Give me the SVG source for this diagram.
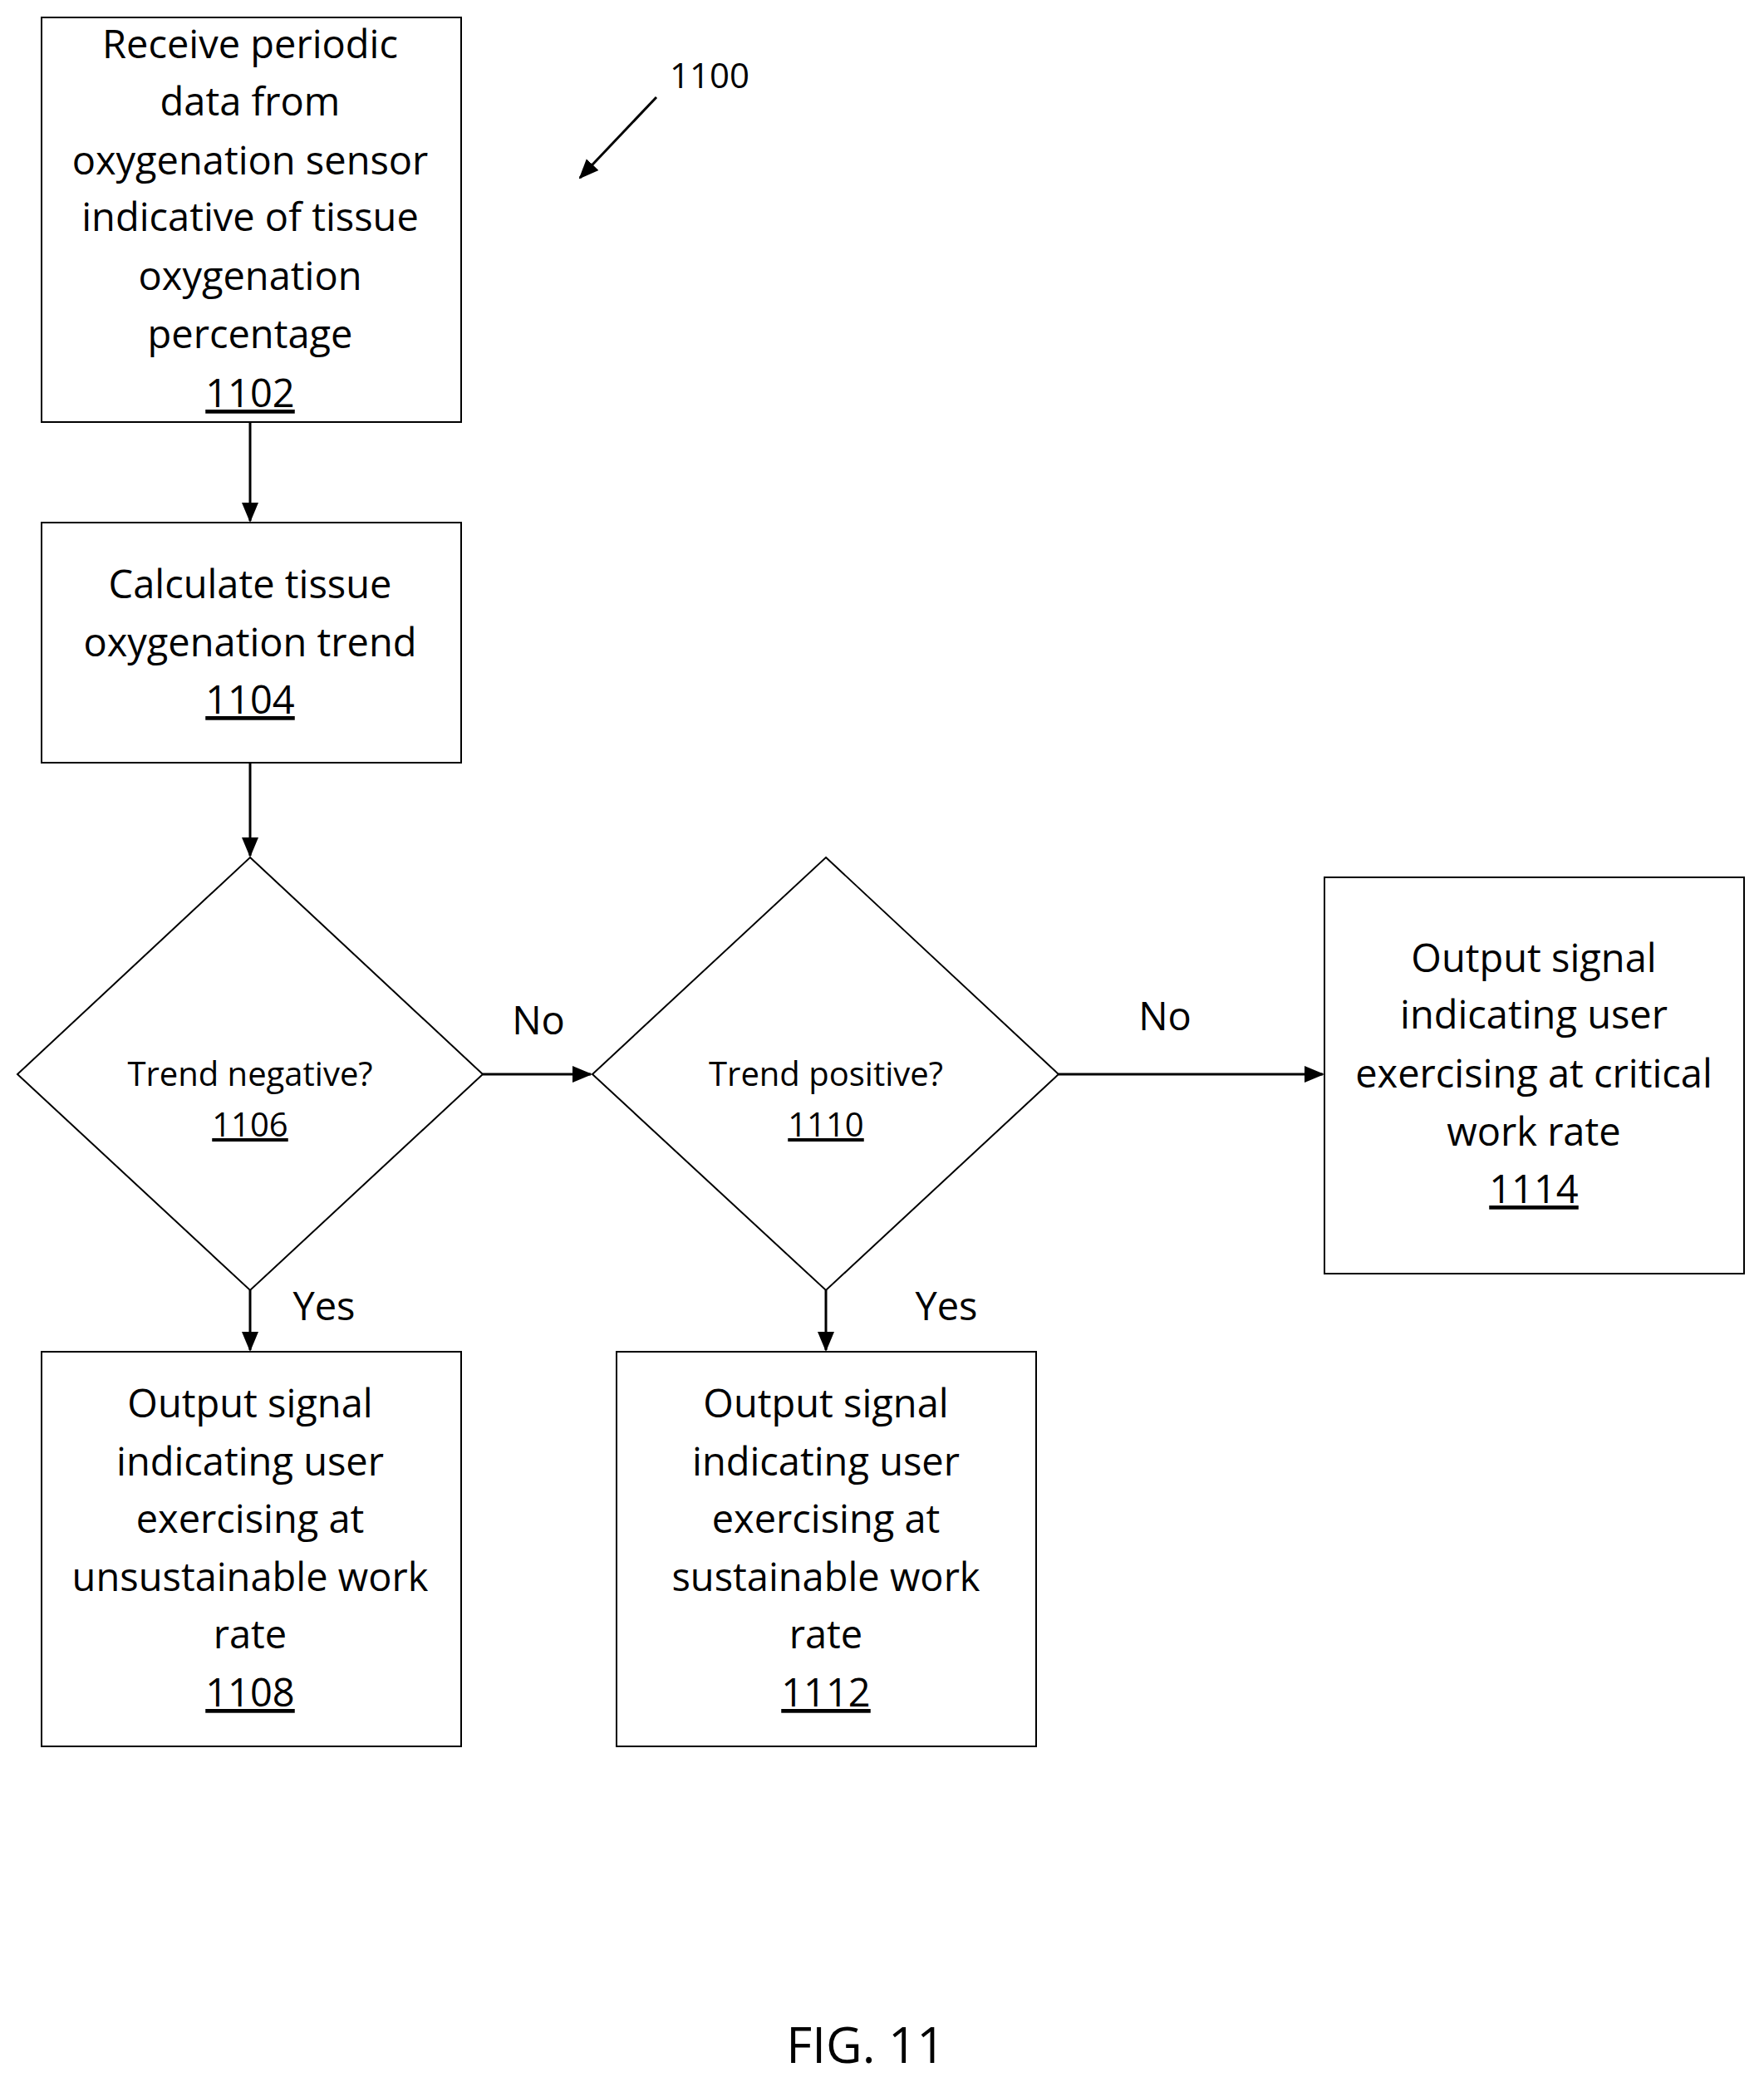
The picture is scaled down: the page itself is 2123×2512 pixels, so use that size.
<svg xmlns="http://www.w3.org/2000/svg" width="2123" height="2512" viewBox="0 0 2123 2512">
<style>
.b{fill:#fff;stroke:#000;stroke-width:2}
.t{font-family:"Open Sans","Liberation Sans",sans-serif;font-size:47px;text-anchor:middle;fill:#000}
.d{font-size:40px}
.u{text-decoration:underline}
.c{stroke:#000;stroke-width:3;fill:none;marker-end:url(#a)}
</style>
<defs><marker id="a" markerWidth="10" markerHeight="10" refX="9" refY="5" orient="auto" markerUnits="userSpaceOnUse" viewBox="0 0 10 10"><path d="M0,0 L10,5 L0,10 z" fill="#000"/></marker>
<marker id="m" markerWidth="24" markerHeight="24" refX="22" refY="12" orient="auto" markerUnits="userSpaceOnUse"><path d="M0,2 L24,12 L0,22 z" fill="#000"/></marker></defs>
<rect width="2123" height="2512" fill="#fff"/>
<g id="connectors">
<line class="c" x1="301" y1="508" x2="301" y2="627" style="marker-end:url(#m)"/>
<line class="c" x1="301" y1="918" x2="301" y2="1030" style="marker-end:url(#m)"/>
<line class="c" x1="301" y1="1553" x2="301" y2="1625" style="marker-end:url(#m)"/>
<line class="c" x1="581" y1="1293" x2="711" y2="1293" style="marker-end:url(#m)"/>
<line class="c" x1="1274" y1="1293" x2="1592" y2="1293" style="marker-end:url(#m)"/>
<line class="c" x1="994" y1="1553" x2="994" y2="1625" style="marker-end:url(#m)"/>
<line class="c" x1="790" y1="117" x2="698" y2="214" style="marker-end:url(#m)"/>
</g>
<g id="n1102"><rect class="b" x="50" y="21" width="505" height="487"/>
<text class="t" x="301" y="70">Receive periodic</text><text class="t" x="301" y="139">data from</text><text class="t" x="301" y="210">oxygenation sensor</text><text class="t" x="301" y="278">indicative of tissue</text><text class="t" x="301" y="349">oxygenation</text><text class="t" x="301" y="419">percentage</text><text class="t u" x="301" y="490">1102</text></g>
<g id="n1104"><rect class="b" x="50" y="629" width="505" height="289"/>
<text class="t" x="301" y="720">Calculate tissue</text><text class="t" x="301" y="790">oxygenation trend</text><text class="t u" x="301" y="859">1104</text></g>
<g id="n1106"><polygon class="b" points="301,1032 581,1293 301,1553 21,1293"/>
<text class="t d" x="301" y="1307">Trend negative?</text><text class="t d u" x="301" y="1368">1106</text></g>
<g id="n1110"><polygon class="b" points="994,1032 1274,1293 994,1553 713,1293"/>
<text class="t d" x="994" y="1307">Trend positive?</text><text class="t d u" x="994" y="1368">1110</text></g>
<g id="n1114"><rect class="b" x="1594" y="1056" width="505" height="477"/>
<text class="t" x="1846" y="1170">Output signal</text><text class="t" x="1846" y="1238">indicating user</text><text class="t" x="1846" y="1309">exercising at critical</text><text class="t" x="1846" y="1379">work rate</text><text class="t u" x="1846" y="1448">1114</text></g>
<g id="n1108"><rect class="b" x="50" y="1627" width="505" height="475"/>
<text class="t" x="301" y="1706">Output signal</text><text class="t" x="301" y="1776">indicating user</text><text class="t" x="301" y="1845">exercising at</text><text class="t" x="301" y="1915">unsustainable work</text><text class="t" x="301" y="1984">rate</text><text class="t u" x="301" y="2054">1108</text></g>
<g id="n1112"><rect class="b" x="742" y="1627" width="505" height="475"/>
<text class="t" x="994" y="1706">Output signal</text><text class="t" x="994" y="1776">indicating user</text><text class="t" x="994" y="1845">exercising at</text><text class="t" x="994" y="1915">sustainable work</text><text class="t" x="994" y="1984">rate</text><text class="t u" x="994" y="2054">1112</text></g>
<g id="labels">
<text class="t" x="648" y="1245">No</text><text class="t" x="1402" y="1240">No</text>
<text class="t" x="390" y="1589">Yes</text><text class="t" x="1139" y="1589">Yes</text>
<text class="t" x="854" y="106" style="font-size:42px">1100</text>
<text class="t" x="1042" y="2483" style="font-size:60px">FIG. 11</text>
</g>
</svg>
